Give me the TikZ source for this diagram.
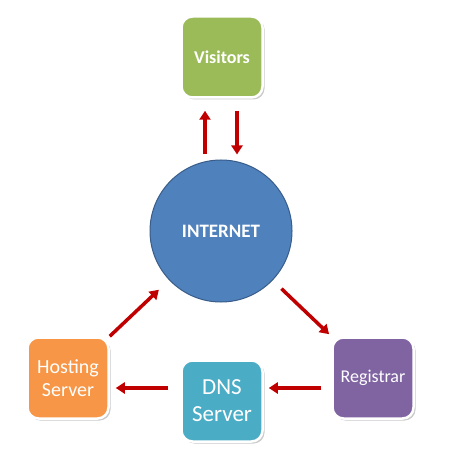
\documentclass[tikz,border=0pt]{standalone}
\usepackage{fontspec}
\setmainfont{Carlito}
\usetikzlibrary{arrows.meta, positioning, shadows}
\definecolor{visgreen}{RGB}{155,187,89}
\definecolor{netblue}{RGB}{79,129,189}
\definecolor{netedge}{RGB}{56,93,138}
\definecolor{hostorange}{RGB}{247,150,70}
\definecolor{dnsteal}{RGB}{75,172,198}
\definecolor{regpurple}{RGB}{128,100,162}
\definecolor{flowred}{RGB}{192,0,0}
\begin{document}
\begin{tikzpicture}[x=1pt,y=-1pt,
  box/.style={rectangle, rounded corners=11pt, draw=white, line width=2.5pt, minimum size=81pt, text=white, align=center,
    drop shadow={shadow xshift=2pt, shadow yshift=-2pt, fill=black!60, opacity=0.35}},
  flow/.style={draw=flowred, line width=3.5pt, -{Triangle[length=9pt,width=11pt]}}]
\useasboundingbox (0,0) rectangle (450,462);
\node[circle, fill=netblue, draw=netedge, line width=1pt, minimum size=142pt, text=white,
  font=\fontsize{19}{23}\selectfont\bfseries] (inet) at (221,231) {INTERNET};
\node[box, fill=visgreen, font=\fontsize{18}{22}\selectfont\bfseries] (vis) at (222,57) {Visitors};
\node[box, fill=hostorange, font=\fontsize{20}{23}\selectfont] (host) at (68,378) {Hosting\\Server};
\node[box, fill=dnsteal, font=\fontsize{23}{27}\selectfont] (dns) at (222,401) {DNS\\Server};
\node[box, fill=regpurple, font=\fontsize{18}{22}\selectfont] (reg) at (373,378) {Registrar};
\draw[flow, shorten <=5pt, shorten >=12pt] ([xshift=-16pt]inet.north) -- ([xshift=-17pt]vis.south);
\draw[flow, shorten <=12pt, shorten >=5pt] ([xshift=15pt]vis.south) -- ([xshift=16pt]inet.north);
\draw[flow, shorten <=12pt, shorten >=3pt] (inet) -- (reg.north west);
\draw[flow, shorten <=10pt, shorten >=5pt] ([yshift=-10pt]reg.west) -- ([yshift=-10pt]reg.west -| dns.east);
\draw[flow, shorten <=12pt, shorten >=6pt] ([yshift=-10pt]reg.west -| dns.west) -- ([yshift=-10pt]reg.west -| host.east);
\draw[flow, shorten >=14pt] (host.north east) -- (inet);
\end{tikzpicture}
\end{document}
